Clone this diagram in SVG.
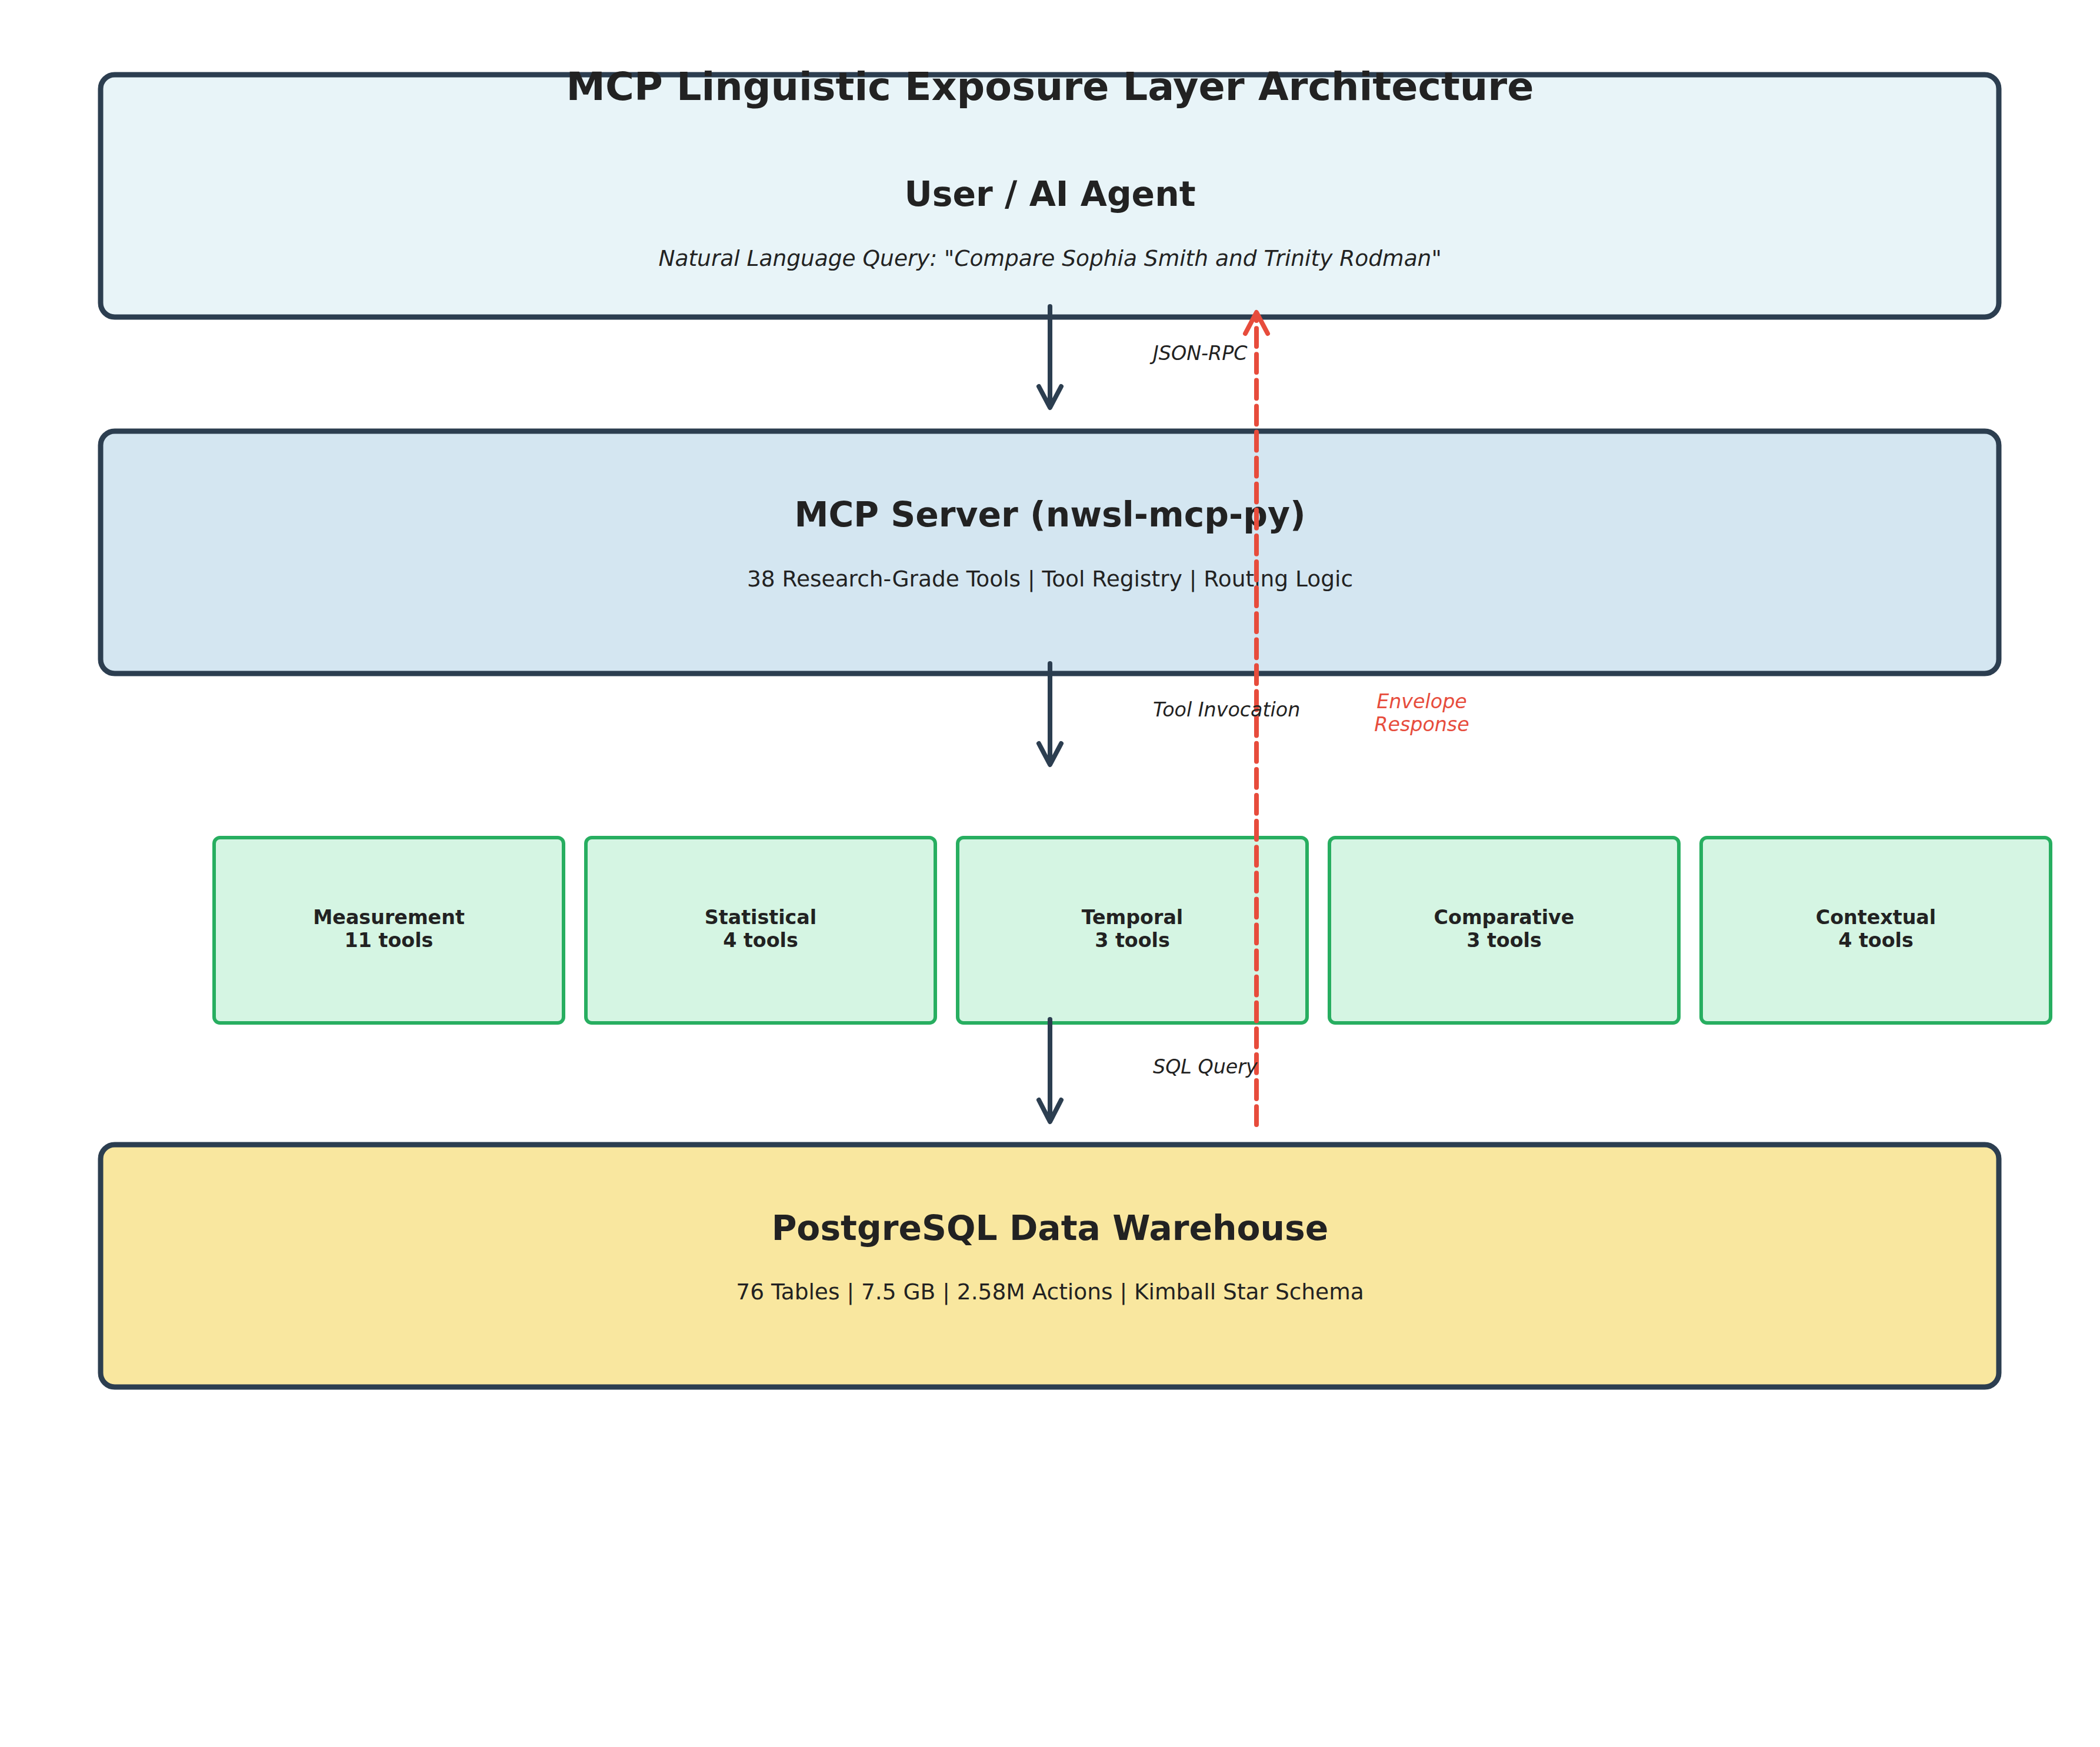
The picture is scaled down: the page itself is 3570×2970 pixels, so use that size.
<svg xmlns="http://www.w3.org/2000/svg" width="3570" height="2970" viewBox="0 0 3570 2970">
<style>
text { font-family: "DejaVu Sans", "Liberation Sans", sans-serif; fill: #222222; }
.layer { stroke: #2c3e50; stroke-width: 9; }
.tool { fill: #d5f5e3; stroke: #27ae60; stroke-width: 6; }
.h1 { font-size: 66.7px; font-weight: bold; text-anchor: middle; }
.h2 { font-size: 58.3px; font-weight: bold; text-anchor: middle; }
.sub { font-size: 37.5px; text-anchor: middle; }
.ital { font-style: italic; }
.tl { font-size: 33.3px; font-weight: bold; text-anchor: middle; }
.lbl { font-size: 33.3px; font-style: italic; }
.flow { fill: none; stroke: #2c3e50; stroke-width: 8; stroke-linecap: round; stroke-linejoin: round; }
.ret { fill: none; stroke: #e74c3c; stroke-width: 8; stroke-linecap: round; stroke-linejoin: round; }
</style>
<rect width="3570" height="2970" fill="#ffffff"/>

<g id="user-agent">
  <rect class="layer" x="171" y="127" width="3227" height="412" rx="24" ry="24" fill="#e8f4f8"/>
  <text class="h2" x="1785" y="350">User / AI Agent</text>
  <text class="sub ital" x="1785" y="452">Natural Language Query: "Compare Sophia Smith and Trinity Rodman"</text>
</g>

<g id="mcp-server">
  <rect class="layer" x="171" y="733" width="3227" height="412" rx="24" ry="24" fill="#d4e6f1"/>
  <text class="h2" x="1785" y="895">MCP Server (nwsl-mcp-py)</text>
  <text class="sub" x="1785" y="997">38 Research-Grade Tools | Tool Registry | Routing Logic</text>
</g>

<g id="tool-measurement">
  <rect class="tool" x="364" y="1424" width="594" height="315" rx="10" ry="10"/>
  <text class="tl" x="661" y="1571">Measurement</text>
  <text class="tl" x="661" y="1610">11 tools</text>
</g>
<g id="tool-statistical">
  <rect class="tool" x="996" y="1424" width="594" height="315" rx="10" ry="10"/>
  <text class="tl" x="1293" y="1571">Statistical</text>
  <text class="tl" x="1293" y="1610">4 tools</text>
</g>
<g id="tool-temporal">
  <rect class="tool" x="1628" y="1424" width="594" height="315" rx="10" ry="10"/>
  <text class="tl" x="1925" y="1571">Temporal</text>
  <text class="tl" x="1925" y="1610">3 tools</text>
</g>
<g id="tool-comparative">
  <rect class="tool" x="2260" y="1424" width="594" height="315" rx="10" ry="10"/>
  <text class="tl" x="2557" y="1571">Comparative</text>
  <text class="tl" x="2557" y="1610">3 tools</text>
</g>
<g id="tool-contextual">
  <rect class="tool" x="2892" y="1424" width="594" height="315" rx="10" ry="10"/>
  <text class="tl" x="3189" y="1571">Contextual</text>
  <text class="tl" x="3189" y="1610">4 tools</text>
</g>

<g id="data-warehouse">
  <rect class="layer" x="171" y="1946" width="3227" height="412" rx="24" ry="24" fill="#f9e79f"/>
  <text class="h2" x="1785" y="2108">PostgreSQL Data Warehouse</text>
  <text class="sub" x="1785" y="2209">76 Tables | 7.5 GB | 2.58M Actions | Kimball Star Schema</text>
</g>

<g id="connectors">
  <path class="flow" d="M1785,521 L1785,691"/>
  <polyline class="flow" points="1766,657 1785,693 1804,657"/>
  <path class="flow" d="M1785,1128 L1785,1298"/>
  <polyline class="flow" points="1766,1264 1785,1300 1804,1264"/>
  <path class="flow" d="M1785,1733 L1785,1905"/>
  <polyline class="flow" points="1766,1870 1785,1907 1804,1870"/>
  <path class="ret" d="M2136,1912 L2136,536" stroke-dasharray="30.8 13.3"/>
  <polyline class="ret" points="2117,567 2136,531 2155,567"/>
  <text class="lbl" x="1960" y="612">JSON-RPC</text>
  <text class="lbl" x="1960" y="1218">Tool Invocation</text>
  <text class="lbl" x="1960" y="1825">SQL Query</text>
  <text class="lbl" x="2417" y="1204" text-anchor="middle" style="fill:#e74c3c">Envelope</text>
  <text class="lbl" x="2417" y="1243" text-anchor="middle" style="fill:#e74c3c">Response</text>
</g>

<g id="title">
  <text class="h1" x="1785" y="170">MCP Linguistic Exposure Layer Architecture</text>
</g>
</svg>
